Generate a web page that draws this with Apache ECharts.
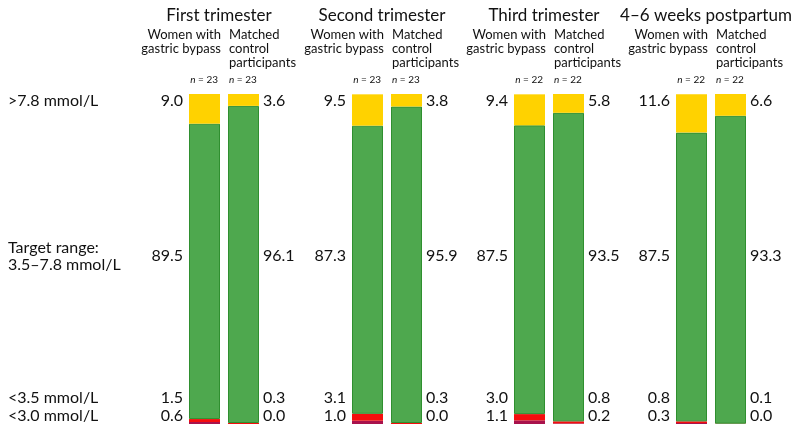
<!DOCTYPE html>
<html>
<head>
<meta charset="utf-8">
<script src="https://cdn.jsdelivr.net/npm/echarts@6/dist/echarts.min.js"></script>
<style>
  html, body { margin: 0; padding: 0; background: #fff; }
  #chart { width: 792px; height: 424px; }
</style>
</head>
<body>
<div id="chart"></div>
<script>
// periods (one panel each) and the two groups
const periods = ["First trimester", "Second trimester", "Third trimester", "4\u20136 weeks postpartum"];
const groups = ["Women with\ngastric bypass", "Matched\ncontrol\nparticipants"];
const nCounts = [[23, 23], [23, 23], [22, 22], [22, 22]];

// % time in each glucose band: [bypass, control] per period
const above78 = [[9.0, 3.6], [9.5, 3.8], [9.4, 5.8], [11.6, 6.6]];
const target = [[89.5, 96.1], [87.3, 95.9], [87.5, 93.5], [87.5, 93.3]];
const below35 = [[1.5, 0.3], [3.1, 0.3], [3.0, 0.8], [0.8, 0.1]];
const below30 = [[0.6, 0.0], [1.0, 0.0], [1.1, 0.2], [0.3, 0.0]];

const rowLabels = [">7.8 mmol/L", "Target range:\n3.5\u20137.8 mmol/L", "<3.5 mmol/L", "<3.0 mmol/L"];

const FONT = "Lato, 'Noto Sans', sans-serif";
const colors = {
  high: "#ffd200",
  target: "#4ea84e",
  targetEdge: "#2f8f2f",
  low: "#f50d0d",
  veryLow: "#a8124c"
};

const gridLefts = [185, 348, 510, 672];
const bandW = 39;
const barW = 31;
const rowY = [101, 256, 398, 416];

const grid = [], xAxis = [], yAxis = [], series = [], graphic = [];

periods.forEach((p, i) => {
  const left = gridLefts[i];
  grid.push({ left: left, top: 94, width: bandW * 2, height: 334 });
  xAxis.push({ type: "category", gridIndex: i, data: groups, show: false });
  yAxis.push({ type: "value", gridIndex: i, min: 0, max: 100, show: false });

  const level1 = below35[i].map((v, k) => +(v - below30[i][k]).toFixed(1));
  const parts = [
    { d: below30[i], c: colors.veryLow },
    { d: level1, c: colors.low },
    { d: target[i], c: colors.target, b: colors.targetEdge },
    { d: above78[i], c: colors.high }
  ];
  parts.forEach(pt => {
    series.push({
      type: "bar",
      xAxisIndex: i,
      yAxisIndex: i,
      stack: "p" + i,
      barWidth: barW,
      data: pt.d,
      silent: true,
      itemStyle: {
        color: pt.c,
        borderColor: pt.b || pt.c,
        borderWidth: pt.b ? 1 : 0
      }
    });
  });

  const centre = left + bandW;
  const bar1Left = left + (bandW - barW) / 2;
  const bar2Right = left + bandW + (bandW + barW) / 2;

  // period heading
  graphic.push({
    type: "text", x: centre - 5, y: 16,
    style: { text: p, font: "17px " + FONT, fill: "#111", textAlign: "center", textVerticalAlign: "middle" }
  });
  // group headings
  graphic.push({
    type: "text", x: centre - 3, y: 28,
    style: { text: groups[0], font: "13px " + FONT, fill: "#111", textAlign: "right", textVerticalAlign: "top", lineHeight: 14 }
  });
  graphic.push({
    type: "text", x: centre + 5, y: 28,
    style: { text: groups[1], font: "13px " + FONT, fill: "#111", textAlign: "left", textVerticalAlign: "top", lineHeight: 14 }
  });
  // n counts
  graphic.push({
    type: "text", x: centre - 6, y: 80,
    style: {
      text: "{i|n} = " + nCounts[i][0], font: "10px " + FONT, fill: "#111",
      textAlign: "right", textVerticalAlign: "middle",
      rich: { i: { fontStyle: "italic", fontSize: 10, fontFamily: FONT } }
    }
  });
  graphic.push({
    type: "text", x: centre + 5, y: 80,
    style: {
      text: "{i|n} = " + nCounts[i][1], font: "10px " + FONT, fill: "#111",
      textAlign: "left", textVerticalAlign: "middle",
      rich: { i: { fontStyle: "italic", fontSize: 10, fontFamily: FONT } }
    }
  });

  // value labels, one row per band
  const rows = [above78[i], target[i], below35[i], below30[i]];
  rows.forEach((vals, r) => {
    graphic.push({
      type: "text", x: bar1Left - 6, y: rowY[r],
      style: { text: vals[0].toFixed(1), font: "16px " + FONT, fill: "#111", textAlign: "right", textVerticalAlign: "middle" }
    });
    graphic.push({
      type: "text", x: bar2Right + 4, y: rowY[r],
      style: { text: vals[1].toFixed(1), font: "16px " + FONT, fill: "#111", textAlign: "left", textVerticalAlign: "middle" }
    });
  });
});

// row labels on the left
rowLabels.forEach((t, r) => {
  graphic.push({
    type: "text", x: 8, y: rowY[r],
    style: { text: t, font: "16px " + FONT, fill: "#111", textAlign: "left", textVerticalAlign: "middle", lineHeight: 17 }
  });
});

const chart = echarts.init(document.getElementById("chart"), null, { renderer: "canvas" });
chart.setOption({
  animation: false,
  backgroundColor: "#fff",
  grid: grid,
  xAxis: xAxis,
  yAxis: yAxis,
  series: series,
  graphic: graphic
});
</script>
</body>
</html>
